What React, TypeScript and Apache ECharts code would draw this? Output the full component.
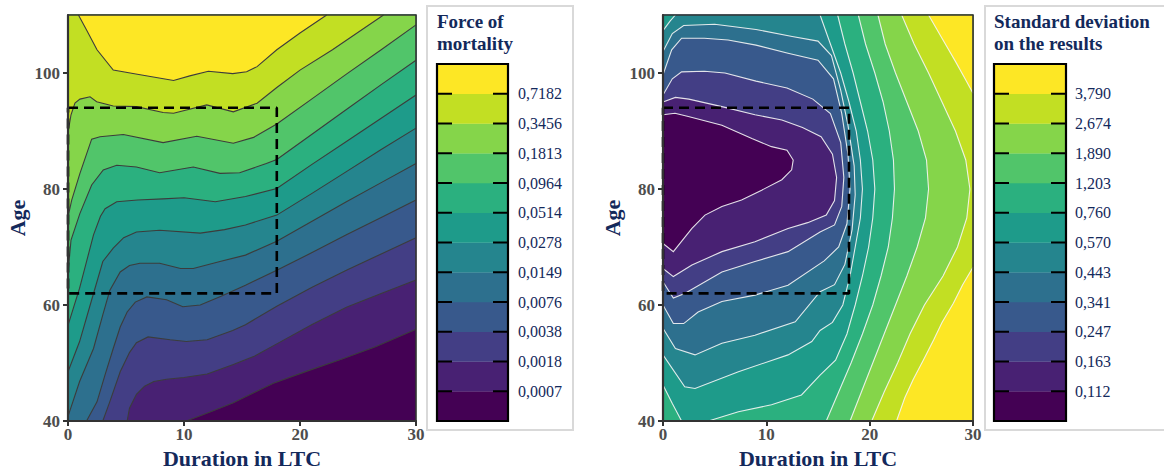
import React, { useEffect, useRef } from 'react';
import * as echarts from 'echarts';

// ---------- data ----------
const durationTicks = [0, 10, 20, 30];
const ageTicks = [40, 60, 80, 100];
const mortalityBreaks = ['0,0007', '0,0018', '0,0038', '0,0076', '0,0149', '0,0278', '0,0514', '0,0964', '0,1813', '0,3456', '0,7182'];
const sdBreaks = ['0,112', '0,163', '0,247', '0,341', '0,443', '0,570', '0,760', '1,203', '1,890', '2,674', '3,790'];
const viridis12 = ['#440154', '#482173', '#433E85', '#38598C', '#2D708E', '#25858E', '#1E9B8A', '#2BB07F', '#51C56A', '#85D54A', '#C2DF23', '#FDE725'];
const focusBox = [[0, 94], [18, 94], [18, 62], [0, 62], [0, 94]];

// Force of mortality: contour lines [duration, age]
const mort01 = [[10.2, 40], [12.3, 41.6], [14.2, 43.1], [15.3, 44.2], [17.7, 46.5], [20.6, 48.6], [23.5, 50.6], [26.5, 52.8], [30, 55.8]];
const mort02 = [[5.1, 40], [5.3, 42.2], [5.9, 44.6], [6.6, 46.0], [7.4, 46.8], [8.5, 47.2], [10, 47.5], [12, 48.1], [14.2, 49.7], [16, 51.1], [18, 53.3], [21, 56.6], [24, 59.6], [27, 62], [30, 64.3]];
const mort03 = [[3.0, 40], [3.6, 43.3], [4.5, 48.5], [5.3, 51.8], [5.9, 53.5], [6.9, 54.5], [8.8, 54], [10.2, 53.7], [12, 54], [14.2, 55.6], [15.3, 56.6], [18, 59.8], [21, 63], [24, 66], [27, 68.8], [30, 71.6]];
const mort04 = [[1.6, 40], [2.5, 43.3], [3.2, 48], [3.9, 52.5], [4.5, 56.2], [5.1, 58.8], [5.8, 60.5], [6.8, 61.4], [8.5, 60.9], [9.9, 59.7], [11.4, 60], [13.2, 61.5], [15.3, 63.4], [18, 66], [21, 69], [24, 72.1], [27, 75.1], [30, 78.1]];
const mort05 = [[0, 40.8], [1.0, 46.8], [2.2, 52.5], [3.0, 58.3], [3.6, 62.5], [4.5, 65.7], [5.3, 66.8], [6.2, 67.2], [7.9, 67.2], [9.7, 66.3], [10.8, 66.3], [13.1, 67.5], [15.3, 68.6], [18, 71], [21, 74.4], [24, 77.8], [27, 81.1], [30, 84.4]];
const mort06 = [[0, 48.5], [1.0, 53.7], [2.0, 60.6], [3.0, 67.5], [3.9, 69.8], [4.8, 71.6], [5.9, 72.6], [7.9, 72.9], [11.4, 72.4], [13.5, 73], [15.3, 73.8], [18, 75.5], [21, 79.2], [24, 83], [27, 86.8], [30, 90.5]];
const mort07 = [[0, 56.5], [1.0, 62.9], [2.2, 72.1], [2.8, 75.3], [3.2, 76.6], [4.2, 77.8], [6.0, 78.1], [8.2, 78.3], [10, 78.5], [12.7, 77.8], [15.3, 78.7], [18, 80.1], [21, 84.2], [24, 88.2], [27, 92.2], [30, 96.2]];
const mort08 = [[0, 65.5], [0.26, 71.2], [1.03, 75.8], [2.04, 80.7], [3.04, 83.3], [4.2, 84.1], [5.9, 83.8], [7.9, 82.8], [10.8, 83.8], [13.1, 82.7], [14.8, 82.8], [17.1, 84.4], [18, 85.1], [21, 89.4], [24, 93.7], [27, 98], [30, 102.2]];
const mort09 = [[0, 75.2], [0.32, 78.1], [1.03, 82.7], [2.04, 88.6], [2.76, 89.0], [4.77, 89.4], [8.2, 88.0], [11.1, 89.1], [14.25, 87.9], [16, 88.9], [18, 91.2], [21, 95.5], [24, 99.8], [27, 104], [30, 108.3]];
const mort10 = [[0, 89.7], [0.26, 92.8], [0.6, 94.8], [1.03, 95.5], [1.9, 95.9], [2.47, 95.05], [3.9, 94.3], [5.9, 94.2], [8.2, 93.2], [9.1, 93.05], [11.96, 94.5], [14.25, 93.3], [16.3, 94.8], [18, 97.5], [20, 100.5], [22.8, 104], [27.2, 110]];
const mort11 = [[0.9, 110], [1.6, 107.4], [2.5, 104], [3.9, 100.5], [5.6, 99.9], [7.1, 99.4], [9.1, 98.7], [10.5, 99.5], [12.1, 100.3], [14.2, 99.9], [15.4, 100.2], [16.3, 101.1], [18, 104], [20, 106.9], [22.3, 110]];

// Standard deviation: contour lines [duration, age]
const sd01 = [[0, 92.8], [1.16, 93.05], [2.45, 92.5], [5.7, 91], [8.6, 88.7], [10.5, 87.3], [12, 86.7], [12.6, 85], [12.45, 83.3], [11.5, 81.6], [9.55, 79.8], [7.6, 78.1], [5.7, 77], [4.06, 75.5], [2.8, 73.2], [1.0, 69.2], [0, 70.6]];
const sd02 = [[0, 95.0], [1.2, 95.8], [2.5, 95.5], [5.7, 94.2], [8.9, 92.8], [11.5, 91.9], [13.5, 90.6], [15.3, 89], [16.4, 86], [16.8, 82], [16.6, 78], [15.8, 75.5], [14, 74.2], [12.1, 73.2], [8.9, 70.9], [5.7, 69.2], [2.8, 66.9], [1.0, 64.9], [0, 66.3]];
const sd03 = [[0, 96.2], [0.9, 99], [1.8, 100.2], [4, 100.3], [6, 100], [9, 98.6], [12, 97.4], [14.5, 95.5], [16.2, 93], [17.2, 88], [17.5, 82], [17.3, 77], [16.6, 73.8], [15.2, 72.6], [12.1, 69.2], [8.9, 67.5], [5.7, 65.7], [2.1, 62], [1.0, 61.2], [0, 64.0]];
const sd04 = [[0, 99.7], [0.84, 104], [1.8, 106], [4, 106], [6.3, 105.7], [9, 104.8], [12.1, 103.4], [15, 102.2], [16.5, 99], [17.3, 93], [17.9, 86], [18.1, 80], [17.8, 74], [17.0, 70], [15.6, 67.6], [12.1, 63.4], [8.9, 61.7], [5.7, 60.6], [3.4, 58.8], [2.0, 56.8], [1.0, 56.8], [0, 60]];
const sd05 = [[0, 103.7], [0.9, 106.8], [2, 108.2], [5, 108.4], [9, 107.5], [12.5, 106.3], [15, 105.5], [16.3, 103], [17.2, 97], [17.9, 91], [18.5, 84], [18.6, 79], [18.3, 73], [17.6, 67], [16.6, 63.5], [15.2, 62.3], [12.8, 57.1], [8.9, 54.8], [5.7, 53.4], [3.1, 51.4], [1.2, 52.5], [0, 56]];
const sd06a = [[0, 107.3], [0.7, 109], [1.2, 110]];
const sd06b = [[15.2, 110], [16.2, 105], [17.2, 100], [18, 95], [18.7, 90], [19.1, 85], [19.3, 80], [19.1, 75], [18.6, 70], [18.1, 65], [17.4, 60], [16.4, 57], [15.2, 55.6], [14.4, 53.7], [12.1, 51.4], [7.3, 48.5], [3.1, 45.6], [2.1, 45.9], [0, 51.4]];
const sd07a = [[1.8, 40], [0.9, 43], [0, 46.2]];
const sd07b = [[16.9, 110], [17.6, 105], [18.4, 100], [19.1, 95], [19.8, 90], [20.3, 85], [20.5, 80], [20.3, 75], [19.9, 70], [19.3, 65], [18.6, 60], [17.8, 55], [16.7, 50.5], [15.2, 47.9], [13.4, 44.5], [10.5, 42.8], [7.3, 41.6], [4.4, 40]];
const sd08 = [[18.9, 110], [19.6, 105], [20.5, 100], [21.3, 95], [21.9, 90], [22.3, 85], [22.4, 80], [22.2, 75], [21.8, 70], [21.1, 65], [20.3, 60], [19.3, 55], [18.2, 50], [17.0, 45], [15.8, 40]];
const sd09 = [[20.8, 110], [21.5, 105], [22.5, 100], [23.6, 95], [24.7, 90], [25.5, 85], [25.7, 80], [25.4, 75], [24.6, 70], [23.6, 65], [22.5, 60], [21.4, 55], [20.3, 50], [19.2, 45], [18.1, 40]];
const sd10 = [[23.1, 110], [24.3, 105], [25.7, 100], [27, 95], [28.3, 90], [29.3, 85], [29.7, 80], [29.4, 75], [28.5, 70], [27.1, 65], [25.3, 60], [23.9, 55], [22.7, 50], [21.4, 45], [20.2, 40]];
const sd11a = [[25.7, 110], [27.0, 106], [28.3, 102], [29.3, 98.8], [30, 96.5]];
const sd11b = [[30, 66.5], [29, 63.5], [28.1, 60.3], [27, 57], [26.2, 54], [25.2, 50.5], [24.2, 47.1], [23.4, 44], [22.6, 40]];

// [level index, line]
const mortPieces: [number, number[][]][] = [
  [0, mort01], [1, mort02], [2, mort03], [3, mort04], [4, mort05], [5, mort06],
  [6, mort07], [7, mort08], [8, mort09], [9, mort10], [10, mort11],
];
const sdPieces: [number, number[][]][] = [
  [0, sd01], [1, sd02], [2, sd03], [3, sd04], [4, sd05], [5, sd06a], [5, sd06b],
  [6, sd07a], [6, sd07b], [7, sd08], [8, sd09], [9, sd10], [10, sd11a], [10, sd11b],
];

// ---------- helpers ----------
const D_MIN = 0, D_MAX = 30, A_MIN = 40, A_MAX = 110;
const W = D_MAX - D_MIN, H = A_MAX - A_MIN, PER = 2 * W + 2 * H;
const SERIF = '"Liberation Serif", "DejaVu Serif", serif';
const NAVY = '#13295b';
const AXIS_GRAY = '#333333';

function perim(p: number[]) {
  const [d, a] = p;
  const e = 1e-6;
  if (Math.abs(a - A_MAX) < e) return d - D_MIN;
  if (Math.abs(d - D_MAX) < e) return W + (A_MAX - a);
  if (Math.abs(a - A_MIN) < e) return W + H + (D_MAX - d);
  return 2 * W + H + (a - A_MIN);
}
const corners: [number, number[]][] = [
  [0, [D_MIN, A_MAX]], [W, [D_MAX, A_MAX]], [W + H, [D_MAX, A_MIN]], [2 * W + H, [D_MIN, A_MIN]],
];
const mod = (v: number) => ((v % PER) + PER) % PER;
function closeRegion(pts: number[][]) {
  const ps = perim(pts[0]);
  const pe = perim(pts[pts.length - 1]);
  const target = mod(pe - ps);
  const cs = corners
    .map(([p, pt]) => ({ dd: mod(pe - p), pt }))
    .filter((c) => c.dd > 0 && c.dd < target)
    .sort((a, b) => a.dd - b.dd)
    .map((c) => c.pt);
  return [...pts, ...cs];
}

function fillSeries(idx: number, pieces: [number, number[][]][]) {
  return {
    type: 'custom',
    coordinateSystem: 'cartesian2d',
    xAxisIndex: idx,
    yAxisIndex: idx,
    silent: true,
    z: 1,
    data: [[0, 40], ...pieces.map(() => [0, 40])],
    renderItem: (params: any, api: any) => {
      const i = params.dataIndex;
      if (i === 0) {
        const rect = [[D_MIN, A_MIN], [D_MAX, A_MIN], [D_MAX, A_MAX], [D_MIN, A_MAX]];
        return { type: 'polygon', shape: { points: rect.map((p) => api.coord(p)) }, style: { fill: viridis12[0] } };
      }
      const [lvl, pts] = pieces[i - 1];
      const poly = closeRegion(pts).map((p) => api.coord(p));
      return {
        type: 'polygon',
        shape: { points: poly },
        style: { fill: viridis12[lvl + 1], stroke: viridis12[lvl + 1], lineWidth: 0.3 },
      };
    },
  };
}

function strokeSeries(idx: number, pieces: [number, number[][]][], color: string, width: number) {
  return {
    type: 'custom',
    coordinateSystem: 'cartesian2d',
    xAxisIndex: idx,
    yAxisIndex: idx,
    silent: true,
    z: 2,
    data: [...pieces.map(() => [0, 40]), [0, 40]],
    renderItem: (params: any, api: any) => {
      const i = params.dataIndex;
      if (i === pieces.length) {
        const rect = [[D_MIN, A_MIN], [D_MAX, A_MIN], [D_MAX, A_MAX], [D_MIN, A_MAX]];
        return {
          type: 'polygon',
          shape: { points: rect.map((p) => api.coord(p)) },
          style: { fill: 'none', stroke: AXIS_GRAY, lineWidth: 1.6 },
        };
      }
      const pts = pieces[i][1].map((p) => api.coord(p));
      return { type: 'polyline', shape: { points: pts }, style: { fill: 'none', stroke: color, lineWidth: width } };
    },
  };
}

function boxSeries(idx: number) {
  return {
    type: 'line',
    xAxisIndex: idx,
    yAxisIndex: idx,
    data: focusBox,
    symbol: 'none',
    silent: true,
    z: 3,
    lineStyle: { color: '#000', width: 2.6, type: [10, 6] },
  };
}

function xAxis(idx: number) {
  return {
    type: 'value',
    gridIndex: idx,
    min: 0,
    max: 30,
    interval: 10,
    name: 'Duration in LTC',
    nameLocation: 'middle',
    nameGap: 23,
    nameTextStyle: { fontFamily: SERIF, fontWeight: 'bold', fontSize: 22, color: NAVY },
    axisLine: { show: true, onZero: false, lineStyle: { color: AXIS_GRAY, width: 2.2 } },
    axisTick: { show: true, length: 5, customValues: durationTicks, lineStyle: { color: AXIS_GRAY, width: 2 } },
    axisLabel: { customValues: durationTicks, fontFamily: SERIF, fontWeight: 'bold', fontSize: 17, color: '#4d4d4d', margin: 5 },
    splitLine: { show: false },
    z: 10,
  };
}
function yAxis(idx: number) {
  return {
    type: 'value',
    gridIndex: idx,
    min: 40,
    max: 110,
    interval: 20,
    name: 'Age',
    nameLocation: 'middle',
    nameGap: 40,
    nameTextStyle: { fontFamily: SERIF, fontWeight: 'bold', fontSize: 22, color: NAVY },
    axisLine: { show: true, onZero: false, lineStyle: { color: AXIS_GRAY, width: 2.2 } },
    axisTick: { show: true, length: 5, customValues: ageTicks, lineStyle: { color: AXIS_GRAY, width: 2 } },
    axisLabel: { customValues: ageTicks, fontFamily: SERIF, fontWeight: 'bold', fontSize: 17, color: '#4d4d4d', margin: 8 },
    splitLine: { show: false },
    z: 10,
  };
}

function legendElements(boxX: number, boxW: number, barX: number, barW: number, title: string, breaks: string[]) {
  const barY = 64, barH = 357;
  const bh = barH / viridis12.length;
  const els: any[] = [];
  els.push({ type: 'rect', shape: { x: boxX, y: 6, width: boxW, height: 424 }, style: { fill: '#fff', stroke: '#d9d9d9', lineWidth: 2 }, z: 20 });
  els.push({
    type: 'text', x: barX, y: 10, z: 21,
    style: { text: title, fontFamily: SERIF, fontWeight: 'bold', fontSize: 19, lineHeight: 22, fill: NAVY, align: 'left', verticalAlign: 'top' },
  });
  viridis12.forEach((c, i) => {
    els.push({ type: 'rect', shape: { x: barX, y: barY + barH - (i + 1) * bh, width: barW, height: bh + 0.3 }, style: { fill: c }, z: 21 });
  });
  breaks.forEach((lab, j) => {
    const y = barY + barH - (j + 1) * bh;
    els.push({ type: 'line', shape: { x1: barX, y1: y, x2: barX + 15, y2: y }, style: { stroke: '#000', lineWidth: 2 }, z: 22 });
    els.push({ type: 'line', shape: { x1: barX + barW - 15, y1: y, x2: barX + barW, y2: y }, style: { stroke: '#000', lineWidth: 2 }, z: 22 });
    els.push({
      type: 'text', x: barX + 81, y, z: 22,
      style: { text: lab, fontFamily: SERIF, fontSize: 16, fill: NAVY, align: 'left', verticalAlign: 'middle' },
    });
  });
  els.push({ type: 'rect', shape: { x: barX, y: barY, width: barW, height: barH }, style: { fill: 'none', stroke: '#000', lineWidth: 2.2 }, z: 23 });
  return els;
}

function buildOption() {
  return {
    animation: false,
    backgroundColor: '#ffffff',
    grid: [
      { left: 68, top: 15, width: 348, height: 406, outerBoundsMode: 'none', containLabel: false },
      { left: 663, top: 15, width: 310, height: 406, outerBoundsMode: 'none', containLabel: false },
    ],
    xAxis: [xAxis(0), xAxis(1)],
    yAxis: [yAxis(0), yAxis(1)],
    series: [
      fillSeries(0, mortPieces),
      strokeSeries(0, mortPieces, '#3c3c3c', 1.1),
      boxSeries(0),
      fillSeries(1, sdPieces),
      strokeSeries(1, sdPieces, 'rgba(245,245,245,0.9)', 1.1),
      boxSeries(1),
    ],
    graphic: {
      elements: [
        ...legendElements(427, 146, 437, 71, 'Force of\nmortality', mortalityBreaks),
        ...legendElements(985, 200, 994, 72, 'Standard deviation\non the results', sdBreaks),
      ],
    },
  };
}

export default function App() {
  const ref = useRef<HTMLDivElement>(null);
  useEffect(() => {
    const chart = echarts.init(ref.current as HTMLDivElement, null, { renderer: 'svg' });
    chart.setOption(buildOption() as any);
    return () => chart.dispose();
  }, []);
  return <div ref={ref} style={{ position: 'fixed', left: 0, top: 0, width: 1164, height: 473, background: '#fff' }} />;
}
